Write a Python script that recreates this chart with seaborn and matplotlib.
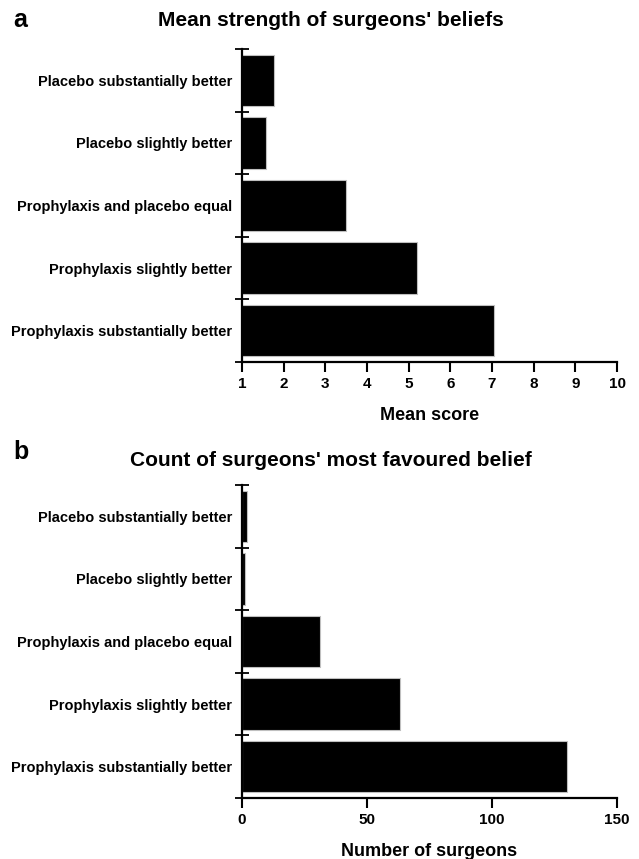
#surgeons' beliefs about prophylaxis vs placebo, two bar panels
import matplotlib
matplotlib.use("Agg")
import matplotlib.pyplot as plt
import seaborn as sns
from matplotlib.ticker import FixedLocator

categories = [
    "Placebo substantially better",
    "Placebo slightly better",
    "Prophylaxis and placebo equal",
    "Prophylaxis slightly better",
    "Prophylaxis substantially better",
]

mean_scores = [1.77, 1.58, 3.5, 5.2, 7.05]
surgeon_counts = [2, 1, 31, 63, 130]

mean_ticks = [1, 2, 3, 4, 5, 6, 7, 8, 9, 10]
count_ticks = [0, 50, 100, 150]

sns.set_style("ticks")
plt.rcParams["font.family"] = ["Liberation Sans", "DejaVu Sans"]
plt.rcParams["font.weight"] = "bold"
for key in ["text.color", "axes.labelcolor", "xtick.color", "ytick.color", "axes.edgecolor"]:
    plt.rcParams[key] = "black"

W, H = 639, 859
fig = plt.figure(figsize=(W / 100, H / 100), dpi=100)


def px_axes(left, top, right, bottom):
    return fig.add_axes([left / W, 1 - bottom / H, (right - left) / W, (bottom - top) / H])


def draw_panel(ax, values, ticks, xlim, xlabel):
    sns.barplot(
        x=values,
        y=categories,
        orient="h",
        color="black",
        edgecolor="0.75",
        linewidth=0.8,
        width=0.82,
        ax=ax,
    )
    ax.set_xlim(*xlim)
    ax.set_ylim(len(categories) - 0.5, -0.5)
    ax.set_xticks(ticks)
    ax.set_xticklabels([str(t) for t in ticks], fontsize=11, fontweight="bold")
    ax.set_yticks(range(len(categories)))
    ax.set_yticklabels(categories, fontsize=10.5, fontweight="bold")
    ax.yaxis.set_minor_locator(FixedLocator([i - 0.5 for i in range(len(categories) + 1)]))
    ax.tick_params(axis="y", which="major", length=0, pad=7)
    ax.tick_params(axis="y", which="minor", direction="inout", length=10, width=1.3)
    ax.tick_params(axis="x", which="major", direction="out", length=7, width=1.5, pad=4)
    for side in ["top", "right"]:
        ax.spines[side].set_visible(False)
    for side in ["left", "bottom"]:
        ax.spines[side].set_linewidth(1.6)
    ax.set_xlabel(xlabel, fontsize=13, fontweight="bold")
    ax.xaxis.set_label_coords(0.5, -0.145)
    ax.set_ylabel("")


ax_a = px_axes(242, 49, 617, 362)
draw_panel(ax_a, mean_scores, mean_ticks, (1, 10), "Mean score")

ax_b = px_axes(242, 485, 617, 798)
draw_panel(ax_b, surgeon_counts, count_ticks, (0, 150), "Number of surgeons")

fig.text(331 / W, 1 - 20 / H, "Mean strength of surgeons' beliefs",
         ha="center", va="center", fontsize=15, fontweight="bold")
fig.text(331 / W, 1 - 460 / H, "Count of surgeons' most favoured belief",
         ha="center", va="center", fontsize=15, fontweight="bold")
fig.text(13 / W, 1 - 20 / H, "a", ha="left", va="center", fontsize=18, fontweight="bold")
fig.text(13 / W, 1 - 452 / H, "b", ha="left", va="center", fontsize=18, fontweight="bold")

fig.savefig("out.png", dpi=100)
plt.close(fig)
print("Saved: out.png")
